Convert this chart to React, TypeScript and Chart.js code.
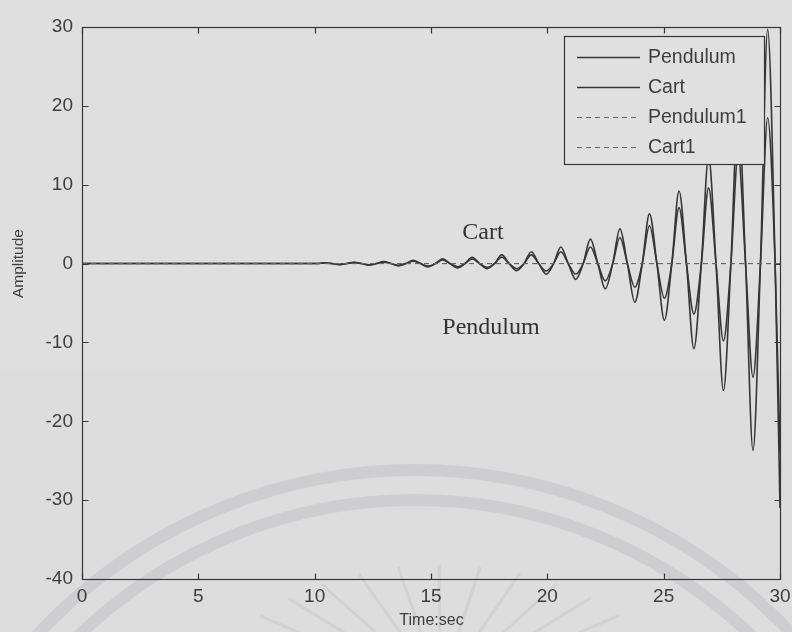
import React, { useEffect, useRef } from 'react';
import { Chart, registerables } from 'chart.js';

Chart.register(...registerables);

// Sample times (s): flat start, then peaks, zero crossings and troughs of the growing oscillation
const timeSec = [
  0, 10.1, 10.42, 10.74, 11.06, 11.38, 11.69, 12.01, 12.33, 12.65, 12.96, 13.28, 13.6, 13.92,
  14.23, 14.55, 14.87, 15.19, 15.5, 15.82, 16.14, 16.46, 16.77, 17.09, 17.41, 17.73, 18.04,
  18.36, 18.68, 19.0, 19.31, 19.63, 19.95, 20.27, 20.58, 20.9, 21.22, 21.54, 21.85, 22.17,
  22.49, 22.81, 23.12, 23.44, 23.76, 24.08, 24.39, 24.71, 25.03, 25.35, 25.66, 25.98, 26.3,
  26.62, 26.93, 27.25, 27.57, 27.89, 28.2, 28.52, 28.84, 29.16, 29.47, 29.79, 30.0,
];

const pendulum = [
  0, 0, 0.1, 0, -0.13, 0, 0.16, 0, -0.2, 0, 0.25, 0, -0.3, 0,
  0.4, 0, -0.42, 0, 0.6, 0, -0.55, 0, 0.8, 0, -0.65, 0, 1.1,
  0, -0.9, 0, 1.5, 0, -1.35, 0, 2.1, 0, -2.0, 0, 3.1, 0,
  -3.2, 0, 4.4, 0, -4.9, 0, 6.3, 0, -7.2, 0, 9.2, 0, -10.8,
  0, 13.5, 0, -16.1, 0, 20.0, 0, -23.7, 0, 29.7, 0, -31,
];

const cart = [
  0, 0, 0.07, 0, -0.1, 0, 0.12, 0, -0.15, 0, 0.18, 0, -0.22, 0,
  0.3, 0, -0.32, 0, 0.45, 0, -0.4, 0, 0.6, 0, -0.48, 0, 0.8,
  0, -0.65, 0, 1.1, 0, -0.95, 0, 1.5, 0, -1.35, 0, 2.1, 0,
  -2.2, 0, 3.3, 0, -3.0, 0, 4.8, 0, -4.4, 0, 7.1, 0, -6.4,
  0, 9.6, 0, -9.8, 0, 13.8, 0, -14.4, 0, 18.5, 0, -24,
];

// Reference (linearised) responses: both stay at zero over the whole run
const refTime = [0, 30];
const pendulum1 = [0, 0];
const cart1 = [0, 0];

const seriesNames = ['Pendulum', 'Cart', 'Pendulum1', 'Cart1'];

const xTicks = [0, 5, 10, 15, 20, 25, 30];
const yTicks = [-40, -30, -20, -10, 0, 10, 20, 30];

const xTitle = 'Time:sec';
const yTitle = 'Amplitude';

// Text labels placed in data coordinates
const noteText = ['Cart', 'Pendulum'];
const noteX = [17.23, 17.58];
const noteY = [3.9, -8.1];

const BG = 'rgb(221,221,222)';
const INK = '#363636';
const TEXT = '#3e3e3e';
const SANS = '"Liberation Sans", Arial, sans-serif';
const SERIF = '"Liberation Serif", "Times New Roman", serif';

const pts = (xs: number[], ys: number[]) => xs.map((x, i) => ({ x, y: ys[i] }));

const backdrop = {
  id: 'backdrop',
  beforeDraw(chart: any) {
    const { ctx, width, height } = chart;
    ctx.save();
    ctx.fillStyle = BG;
    ctx.fillRect(0, 0, width, height);
    ctx.fillStyle = 'rgba(255,255,255,0.08)';
    ctx.fillRect(0, 0, width, 372);
    // faint ring decoration at the bottom of the page
    ctx.strokeStyle = 'rgba(150,150,155,0.2)';
    ctx.lineWidth = 12;
    ctx.beginPath();
    ctx.arc(415, 985, 515, Math.PI * 1.0, Math.PI * 2.0);
    ctx.stroke();
    ctx.beginPath();
    ctx.arc(415, 985, 485, Math.PI * 1.0, Math.PI * 2.0);
    ctx.stroke();
    ctx.lineWidth = 3;
    ctx.strokeStyle = 'rgba(150,150,155,0.14)';
    for (let k = 0; k < 15; k++) {
      const a = Math.PI * (1.1 + k * 0.057);
      ctx.beginPath();
      ctx.moveTo(440 + Math.cos(a) * 90, 700 + Math.sin(a) * 60);
      ctx.lineTo(440 + Math.cos(a) * 230, 700 + Math.sin(a) * 135);
      ctx.stroke();
    }
    ctx.restore();
  },
};

const frame = {
  id: 'frame',
  afterDatasetsDraw(chart: any) {
    const { ctx, chartArea: a, scales } = chart;
    const xs = scales.x;
    const ys = scales.y;
    ctx.save();
    ctx.strokeStyle = INK;
    ctx.lineWidth = 1.2;
    const L = Math.round(a.left) + 0.5;
    const R = Math.round(a.right) + 0.5;
    const T = Math.round(a.top) + 0.5;
    const B = Math.round(a.bottom) + 0.5;
    ctx.strokeRect(L, T, R - L, B - T);
    const len = 6;
    ctx.beginPath();
    xTicks.forEach((v) => {
      const px = Math.round(xs.getPixelForValue(v)) + 0.5;
      ctx.moveTo(px, B);
      ctx.lineTo(px, B - len);
      ctx.moveTo(px, T);
      ctx.lineTo(px, T + len);
    });
    yTicks.forEach((v) => {
      const py = Math.round(ys.getPixelForValue(v)) + 0.5;
      ctx.moveTo(L, py);
      ctx.lineTo(L + len, py);
      ctx.moveTo(R, py);
      ctx.lineTo(R - len, py);
    });
    ctx.stroke();

    // axis titles
    ctx.fillStyle = TEXT;
    ctx.textAlign = 'center';
    ctx.textBaseline = 'middle';
    ctx.font = `16px ${SANS}`;
    ctx.fillText(xTitle, (L + R) / 2, 621);
    ctx.save();
    ctx.translate(19, ys.getPixelForValue(0));
    ctx.rotate(-Math.PI / 2);
    ctx.font = `15.5px ${SANS}`;
    ctx.fillText(yTitle, 0, 0);
    ctx.restore();

    // in-plot text labels
    ctx.fillStyle = '#333';
    ctx.font = `24px ${SERIF}`;
    noteText.forEach((t, i) => {
      ctx.fillText(t, xs.getPixelForValue(noteX[i]), ys.getPixelForValue(noteY[i]));
    });

    // legend box
    const bx = 564.5, by = 36.5, bw = 200, bh = 128;
    ctx.fillStyle = 'rgb(224,224,225)';
    ctx.fillRect(bx, by, bw, bh);
    ctx.lineWidth = 1.2;
    ctx.strokeStyle = INK;
    ctx.strokeRect(bx, by, bw, bh);
    ctx.font = `19.5px ${SANS}`;
    ctx.textAlign = 'left';
    chart.data.datasets.forEach((ds: any, i: number) => {
      const rowY = 57 + i * 30;
      ctx.save();
      ctx.strokeStyle = ds.borderColor;
      ctx.lineWidth = ds.borderWidth;
      ctx.setLineDash(ds.borderDash || []);
      ctx.beginPath();
      ctx.moveTo(577, rowY + 0.5);
      ctx.lineTo(640, rowY + 0.5);
      ctx.stroke();
      ctx.restore();
      ctx.fillStyle = TEXT;
      ctx.fillText(ds.label, 648, rowY + 1);
    });
    ctx.restore();
  },
};

export default function App() {
  const ref = useRef<HTMLCanvasElement | null>(null);

  useEffect(() => {
    if (!ref.current) return;
    const chart = new Chart(ref.current, {
      type: 'line',
      data: {
        datasets: [
          {
            label: seriesNames[0],
            data: pts(timeSec, pendulum),
            borderColor: INK,
            borderWidth: 1.6,
            pointRadius: 0,
            cubicInterpolationMode: 'monotone',
            order: 2,
          },
          {
            label: seriesNames[1],
            data: pts(timeSec, cart),
            borderColor: INK,
            borderWidth: 1.6,
            pointRadius: 0,
            cubicInterpolationMode: 'monotone',
            order: 1,
          },
          {
            label: seriesNames[2],
            data: pts(refTime, pendulum1),
            borderColor: '#666',
            borderWidth: 1,
            borderDash: [5, 4],
            pointRadius: 0,
            order: 0,
          },
          {
            label: seriesNames[3],
            data: pts(refTime, cart1),
            borderColor: '#666',
            borderWidth: 1,
            borderDash: [5, 4],
            pointRadius: 0,
            order: 0,
          },
        ],
      },
      options: {
        responsive: false,
        devicePixelRatio: 1,
        animation: false,
        layout: { padding: { top: 27, right: 12, left: 0, bottom: 0 } },
        plugins: { legend: { display: false }, tooltip: { enabled: false } },
        scales: {
          x: {
            type: 'linear',
            min: 0,
            max: 30,
            afterBuildTicks: (s: any) => {
              s.ticks = xTicks.map((v) => ({ value: v }));
            },
            ticks: { color: TEXT, font: { family: SANS, size: 19 }, padding: 6, maxRotation: 0 },
            grid: { display: false, drawTicks: false },
            border: { display: false },
            afterFit: (s: any) => {
              s.height = 53;
              s.paddingLeft = 0;
              s.paddingRight = 0;
            },
          },
          y: {
            type: 'linear',
            min: -40,
            max: 30,
            afterBuildTicks: (s: any) => {
              s.ticks = yTicks.map((v) => ({ value: v }));
            },
            ticks: { color: TEXT, font: { family: SANS, size: 19 }, padding: 9 },
            grid: { display: false, drawTicks: false },
            border: { display: false },
            afterFit: (s: any) => {
              s.width = 82;
              s.paddingTop = 0;
              s.paddingBottom = 0;
            },
          },
        },
      },
      plugins: [backdrop, frame],
    });
    return () => chart.destroy();
  }, []);

  return (
    <div style={{ position: 'absolute', left: 0, top: 0, width: 792, height: 632 }}>
      <canvas ref={ref} width={792} height={632} />
    </div>
  );
}
